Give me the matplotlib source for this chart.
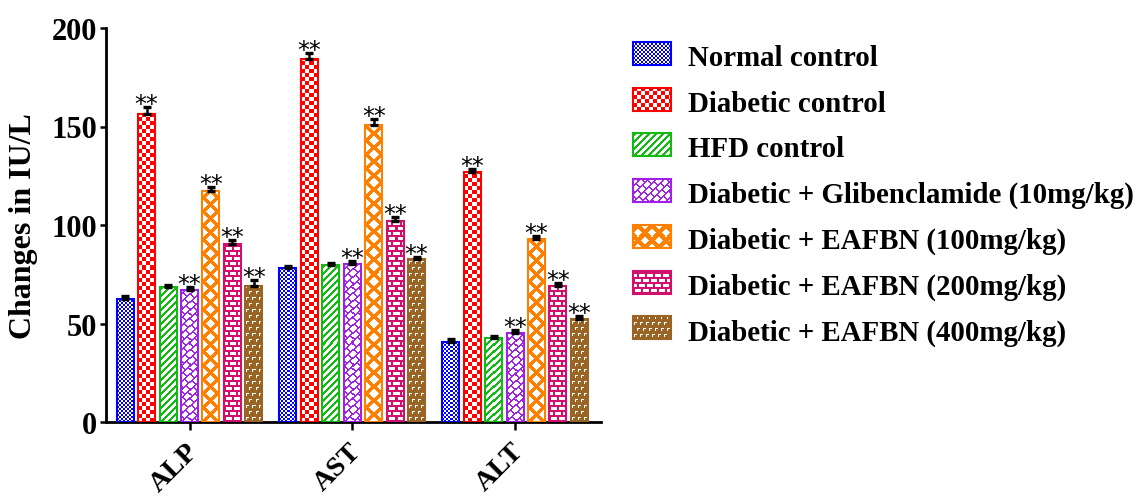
import numpy as np
import matplotlib
matplotlib.use("Agg")
import matplotlib.pyplot as plt
import matplotlib.transforms as mtransforms
from matplotlib.colors import to_rgb
from matplotlib.patches import Rectangle

# ---- data -------------------------------------------------------------
categories = ["ALP", "AST", "ALT"]
group_labels = [
    "Normal control",
    "Diabetic control",
    "HFD control",
    "Diabetic + Glibenclamide (10mg/kg)",
    "Diabetic + EAFBN (100mg/kg)",
    "Diabetic + EAFBN (200mg/kg)",
    "Diabetic + EAFBN (400mg/kg)",
]
normal_control = [62.5, 78.0, 40.5]
diabetic_control = [156.5, 184.5, 127.0]
hfd_control = [68.5, 79.5, 42.5]
glibenclamide_10 = [67.0, 80.0, 45.0]
eafbn_100 = [117.5, 151.0, 93.0]
eafbn_200 = [90.5, 102.0, 69.0]
eafbn_400 = [69.0, 82.5, 52.5]

normal_control_err = [1.5, 1.3, 1.8]
diabetic_control_err = [3.5, 3.0, 1.6]
hfd_control_err = [1.2, 1.0, 1.2]
glibenclamide_10_err = [1.3, 1.5, 1.5]
eafbn_100_err = [2.0, 3.0, 1.2]
eafbn_200_err = [2.0, 2.0, 1.5]
eafbn_400_err = [3.0, 1.5, 1.2]

significance = ["", "**", "", "**", "**", "**", "**"]
y_ticks = [0, 50, 100, 150, 200]

values = [normal_control, diabetic_control, hfd_control, glibenclamide_10,
          eafbn_100, eafbn_200, eafbn_400]
errors = [normal_control_err, diabetic_control_err, hfd_control_err,
          glibenclamide_10_err, eafbn_100_err, eafbn_200_err, eafbn_400_err]

# ---- style ------------------------------------------------------------
colors = ["#0000FF", "#FF0000", "#11BB11", "#A020E8", "#FF8000", "#D0106C", "#9A6425"]
patterns = ["fine_check", "coarse_check", "diagonal", "herringbone",
            "lattice", "brick", "hooks"]

plt.rcParams["font.family"] = ["Liberation Serif", "DejaVu Serif"]
plt.rcParams["font.weight"] = "bold"
plt.rcParams["axes.linewidth"] = 2.0


def white_mask(kind, h, w):
    """Boolean mask of the white pixels of a fill pattern (row 0 = bottom)."""
    I, J = np.mgrid[0:h, 0:w]
    if kind == "fine_check":
        return ((I // 2 + J // 2) % 2) == 0
    if kind == "coarse_check":
        return ((I // 4 + J // 4) % 2) == 0
    if kind == "diagonal":
        return ((J - I) % 7) >= 3
    if kind == "herringbone":
        d = (J - I) % 8
        row = (J - I) // 8
        s = (J + I + (row % 2) * 5) % 10
        return (d >= 2) & (s >= 2)
    if kind == "lattice":
        c = (w - 1) / 2.0
        P, t = 14.0, 6.0
        a = (J - c + I + P / 2) % P
        b = (J - c - I + P / 2) % P
        da = np.minimum(a, P - a)
        db = np.minimum(b, P - b)
        return (da >= t / 2) & (db >= t / 2)
    if kind == "brick":
        r = I // 5
        return ((I % 5) >= 2) & (((J + (r % 2) * 4) % 8) >= 2)
    if kind == "hooks":
        r = I // 6
        j = (J + (r % 2) * 3) % 6
        i = I % 6
        return ((i == 4) & (j >= 1) & (j <= 3)) | ((j == 1) & (i >= 2) & (i <= 4))
    return np.zeros((h, w), bool)


def texture(kind, color, h, w):
    img = np.empty((h, w, 3))
    img[:] = to_rgb(color)
    img[white_mask(kind, h, w)] = 1.0
    return img


# ---- figure -----------------------------------------------------------
W, H = 1138, 502
fig = plt.figure(figsize=(W / 100, H / 100), dpi=100)
ax_l, ax_r, ax_b, ax_t = 106, 601, 423, 29
ax = fig.add_axes([ax_l / W, (H - ax_b) / H, (ax_r - ax_l) / W, (ax_b - ax_t) / H])

centers = np.arange(len(categories), dtype=float)
group_px = 162.75
step = 21.45 / group_px
width = 17.0 / group_px
xmin = (ax_l - 189.5) / group_px
xmax = (ax_r - 189.5) / group_px
ax.set_xlim(xmin, xmax)
ax.set_ylim(0, 200)
ax.set_autoscale_on(False)

n = len(values)
for i, (vals, errs, col, pat, sig) in enumerate(
        zip(values, errors, colors, patterns, significance)):
    xs = centers + (i - (n - 1) / 2) * step
    bars = ax.bar(xs, vals, width, facecolor="none", edgecolor=col,
                  linewidth=1.5, zorder=3)
    for rect in bars:
        x0 = rect.get_x()
        x1 = x0 + rect.get_width()
        y1 = rect.get_height()
        (px0, py0), (px1, py1) = ax.transData.transform([(x0, 0), (x1, y1)])
        X0, X1, Y0, Y1 = (int(round(px0)), int(round(px1)),
                          int(round(py0)), int(round(py1)))
        (dx0, dy0), (dx1, dy1) = ax.transData.inverted().transform(
            [(X0, Y0), (X1, Y1)])
        ax.imshow(texture(pat, col, Y1 - Y0, X1 - X0),
                  extent=(dx0, dx1, dy0, dy1), origin="lower",
                  interpolation="nearest", aspect="auto", zorder=2)
    ax.errorbar(xs, vals, yerr=[np.zeros(len(vals)), errs], fmt="none",
                ecolor="black", elinewidth=1.8, capsize=2.6, capthick=2.4,
                zorder=4)
    if sig:
        for x, v, e in zip(xs, vals, errs):
            ax.annotate(sig, (x, v + e), xytext=(0, -4),
                        textcoords="offset pixels", ha="center", va="baseline",
                        fontsize=17, fontweight="normal",
                        family=["DejaVu Sans"], zorder=5)

ax.spines["top"].set_visible(False)
ax.spines["right"].set_visible(False)
ax.set_yticks(y_ticks)
ax.tick_params(axis="y", length=4.5, width=1.8, pad=2, labelsize=22)
ax.set_xticks(centers)
ax.set_xticklabels(categories, rotation=45, ha="right", va="top",
                   rotation_mode="anchor", fontsize=20.5)
ax.tick_params(axis="x", length=5.8, width=1.8, pad=6)
shift = mtransforms.ScaledTranslation(-4 / 100, 0, fig.dpi_scale_trans)
for lab in ax.get_xticklabels():
    lab.set_transform(lab.get_transform() + shift)
ax.set_ylabel("Changes in IU/L", fontsize=23, fontweight="bold")
ax.yaxis.set_label_coords((38 - ax_l) / (ax_r - ax_l), 0.5)

# ---- legend -----------------------------------------------------------
lax = fig.add_axes([0, 0, 1, 1])
lax.set_xlim(0, W)
lax.set_ylim(H, 0)
lax.axis("off")
row_gap = 45.7
for i, (label, col, pat) in enumerate(zip(group_labels, colors, patterns)):
    top = int(round(43 + row_gap * i))
    left, pw, ph = 633, 38, 23
    lax.imshow(texture(pat, col, ph, pw),
               extent=(left, left + pw, top + ph, top), origin="lower",
               interpolation="nearest", aspect="auto", zorder=2)
    lax.add_patch(Rectangle((left, top), pw, ph, facecolor="none",
                            edgecolor=col, linewidth=1.5, zorder=3))
    lax.text(688, 66 + row_gap * i, label, fontsize=20.8, fontweight="bold",
             va="baseline", ha="left")

fig.savefig("out.png", dpi=100)
